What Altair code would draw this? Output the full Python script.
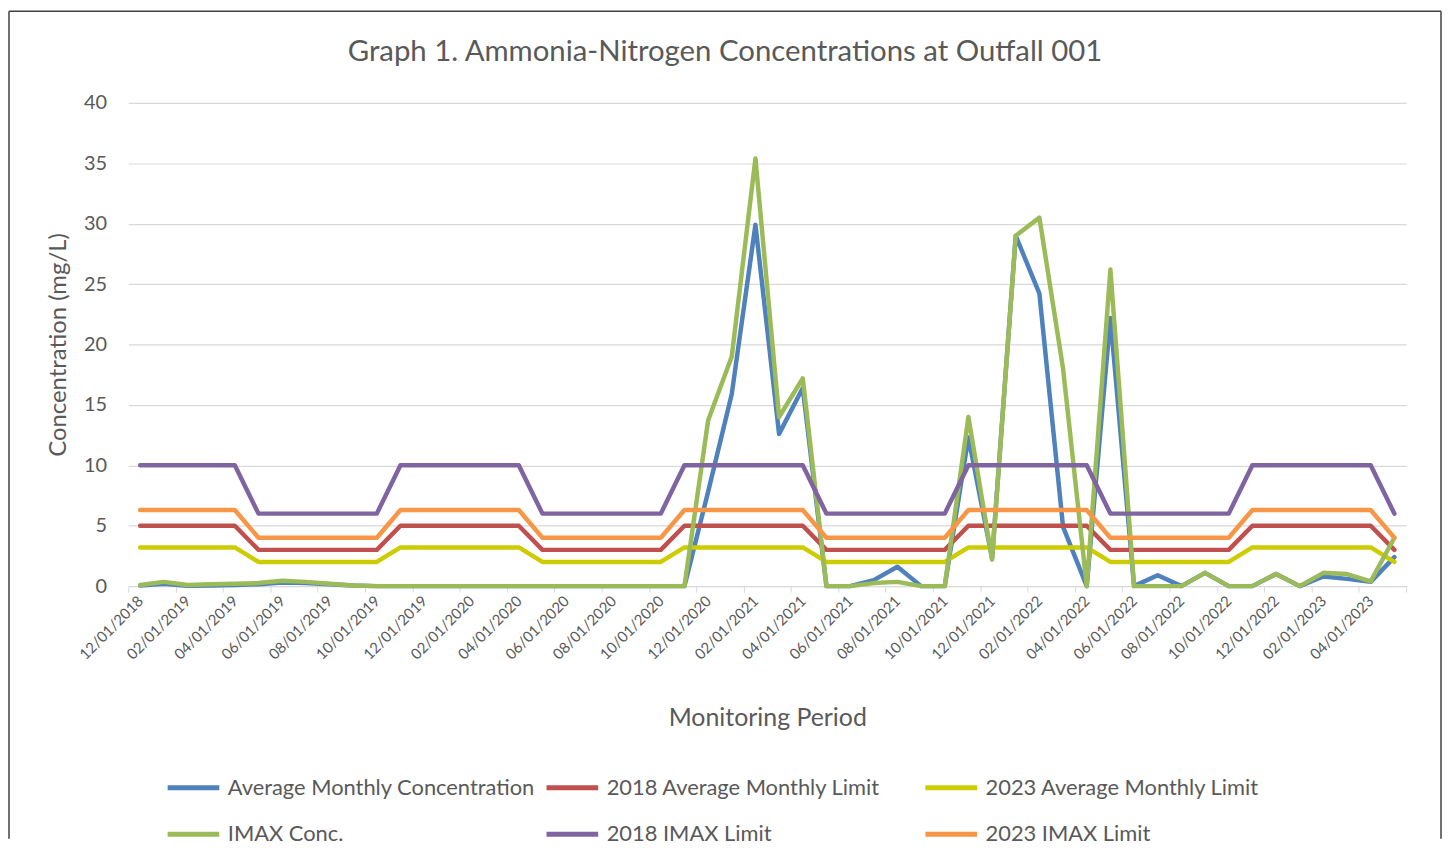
import altair as alt
import pandas as pd

months = [
    "12/01/2018", "01/01/2019", "02/01/2019", "03/01/2019", "04/01/2019", "05/01/2019",
    "06/01/2019", "07/01/2019", "08/01/2019", "09/01/2019", "10/01/2019", "11/01/2019",
    "12/01/2019", "01/01/2020", "02/01/2020", "03/01/2020", "04/01/2020", "05/01/2020",
    "06/01/2020", "07/01/2020", "08/01/2020", "09/01/2020", "10/01/2020", "11/01/2020",
    "12/01/2020", "01/01/2021", "02/01/2021", "03/01/2021", "04/01/2021", "05/01/2021",
    "06/01/2021", "07/01/2021", "08/01/2021", "09/01/2021", "10/01/2021", "11/01/2021",
    "12/01/2021", "01/01/2022", "02/01/2022", "03/01/2022", "04/01/2022", "05/01/2022",
    "06/01/2022", "07/01/2022", "08/01/2022", "09/01/2022", "10/01/2022", "11/01/2022",
    "12/01/2022", "01/01/2023", "02/01/2023", "03/01/2023", "04/01/2023", "05/01/2023",
]

avg_conc = [
    0.05, 0.2, 0.02, 0.05, 0.1, 0.15, 0.3, 0.25, 0.15, 0.05, 0, 0,
    0, 0, 0, 0, 0, 0, 0, 0, 0, 0, 0, 0,
    7.8, 15.9, 29.9, 12.6, 16.4, 0, 0, 0.5, 1.6, 0, 0, 12.3,
    2.3, 29.0, 24.2, 4.9, 0, 22.2, 0, 0.9, 0, 1.1, 0, 0,
    1.0, 0, 0.8, 0.6, 0.35, 2.4,
]
imax_conc = [
    0.1, 0.35, 0.1, 0.15, 0.2, 0.25, 0.45, 0.35, 0.2, 0.05, 0, 0,
    0, 0, 0, 0, 0, 0, 0, 0, 0, 0, 0, 0,
    13.7, 19.0, 35.4, 14.0, 17.2, 0, 0, 0.25, 0.35, 0, 0, 14.0,
    2.2, 29.0, 30.5, 18.0, 0, 26.2, 0, 0, 0, 1.1, 0, 0,
    1.0, 0, 1.1, 1.0, 0.4, 4.0,
]
aml_2018 = [
    5, 5, 5, 5, 5, 3, 3, 3, 3, 3, 3, 5,
    5, 5, 5, 5, 5, 3, 3, 3, 3, 3, 3, 5,
    5, 5, 5, 5, 5, 3, 3, 3, 3, 3, 3, 5,
    5, 5, 5, 5, 5, 3, 3, 3, 3, 3, 3, 5,
    5, 5, 5, 5, 5, 3,
]
aml_2023 = [
    3.2, 3.2, 3.2, 3.2, 3.2, 2, 2, 2, 2, 2, 2, 3.2,
    3.2, 3.2, 3.2, 3.2, 3.2, 2, 2, 2, 2, 2, 2, 3.2,
    3.2, 3.2, 3.2, 3.2, 3.2, 2, 2, 2, 2, 2, 2, 3.2,
    3.2, 3.2, 3.2, 3.2, 3.2, 2, 2, 2, 2, 2, 2, 3.2,
    3.2, 3.2, 3.2, 3.2, 3.2, 2,
]
imax_2018 = [
    10, 10, 10, 10, 10, 6, 6, 6, 6, 6, 6, 10,
    10, 10, 10, 10, 10, 6, 6, 6, 6, 6, 6, 10,
    10, 10, 10, 10, 10, 6, 6, 6, 6, 6, 6, 10,
    10, 10, 10, 10, 10, 6, 6, 6, 6, 6, 6, 10,
    10, 10, 10, 10, 10, 6,
]
imax_2023 = [
    6.3, 6.3, 6.3, 6.3, 6.3, 4, 4, 4, 4, 4, 4, 6.3,
    6.3, 6.3, 6.3, 6.3, 6.3, 4, 4, 4, 4, 4, 4, 6.3,
    6.3, 6.3, 6.3, 6.3, 6.3, 4, 4, 4, 4, 4, 4, 6.3,
    6.3, 6.3, 6.3, 6.3, 6.3, 4, 4, 4, 4, 4, 4, 6.3,
    6.3, 6.3, 6.3, 6.3, 6.3, 4,
]

series_names = [
    "Average Monthly Concentration",
    "2018 Average Monthly Limit",
    "2023 Average Monthly Limit",
    "IMAX Conc.",
    "2018 IMAX Limit",
    "2023 IMAX Limit",
]
series_values = [avg_conc, aml_2018, aml_2023, imax_conc, imax_2018, imax_2023]
series_colors = ["#4f81bd", "#c0504d", "#cccc00", "#9bbb59", "#8064a2", "#f79646"]

rows = []
for name, vals in zip(series_names, series_values):
    for i, (m, v) in enumerate(zip(months, vals)):
        rows.append({"idx": i, "month": m, "series": name, "value": v})
df = pd.DataFrame(rows)

n = len(months)
W, H = 1285, 486
FONT = "Lato"
GREY = "#595959"
BORDER = "#404040"

tick_vals = [-0.5 + 2 * k for k in range((n + 1) // 2 + 1)]
label_arr = "[" + ",".join("'" + m + "'" for m in months[::2]) + "]"
label_expr = label_arr + "[round((datum.value + 0.5) / 2)] || ''"
band = W / n

x_enc = alt.X(
    "idx:Q",
    scale=alt.Scale(domain=[-0.5, n - 0.5], nice=False, zero=False),
    axis=alt.Axis(
        values=tick_vals,
        labelExpr=label_expr,
        labelAngle=-45,
        labelAlign="right",
        labelBaseline="middle",
        labelOffset=band / 2,
        labelPadding=6,
        labelFontSize=15,
        labelFont=FONT,
        labelColor=GREY,
        labelOverlap=False,
        tickSize=6,
        tickColor="#d9d9d9",
        tickWidth=1,
        domainColor="#d9d9d9",
        domainWidth=1,
        grid=False,
        title="Monitoring Period",
        titleFont=FONT,
        titleFontSize=25,
        titleFontWeight="normal",
        titleColor=GREY,
        titlePadding=44,
    ),
)
y_enc = alt.Y(
    "value:Q",
    scale=alt.Scale(domain=[0, 40], nice=False),
    axis=alt.Axis(
        values=[0, 5, 10, 15, 20, 25, 30, 35, 40],
        grid=True,
        gridColor="#d9d9d9",
        gridWidth=1.2,
        domain=False,
        ticks=False,
        labelPadding=22,
        labelFontSize=20,
        labelFont=FONT,
        labelColor=GREY,
        title="Concentration (mg/L)",
        titleFont=FONT,
        titleFontSize=24,
        titleFontWeight="normal",
        titleColor=GREY,
        titlePadding=13,
    ),
)
color_enc = alt.Color(
    "series:N",
    scale=alt.Scale(domain=series_names, range=series_colors),
    legend=alt.Legend(
        title=None,
        orient="none",
        legendX=37,
        legendY=660,
        direction="horizontal",
        columns=3,
        gridAlign="all",
        columnPadding=0,
        rowPadding=7,
        symbolType="stroke",
        symbolSize=2700,
        symbolStrokeWidth=5,
        labelFontSize=22,
        labelFont=FONT,
        labelColor=GREY,
        labelLimit=600,
        labelOffset=6,
    ),
)

base = alt.Chart(df).encode(x=x_enc, y=y_enc, color=color_enc)
layers = []
for name in series_names:
    layers.append(
        base.transform_filter(alt.datum.series == name).mark_line(
            strokeWidth=4.5, strokeCap="round", strokeJoin="round"
        )
    )

# chart frame (left, top, right edges), as in the reference
frame_df = pd.DataFrame({"b": [0]})
frame_left = alt.Chart(frame_df).mark_rule(color=BORDER, strokeWidth=1.5).encode(
    x=alt.value(-120), y=alt.value(-92), y2=alt.value(740)
)
frame_right = alt.Chart(frame_df).mark_rule(color=BORDER, strokeWidth=1.5).encode(
    x=alt.value(W + 35), y=alt.value(-92), y2=alt.value(740)
)
frame_top = alt.Chart(frame_df).mark_rule(color=BORDER, strokeWidth=1.5).encode(
    x=alt.value(-120), x2=alt.value(W + 35), y=alt.value(-92)
)

chart = alt.layer(frame_left, frame_right, frame_top, *layers).properties(
    width=W,
    height=H,
    padding=0,
    title=alt.Title(
        "Graph 1. Ammonia-Nitrogen Concentrations at Outfall 001",
        font=FONT,
        fontSize=29.5,
        fontWeight="normal",
        color=GREY,
        anchor="middle",
        frame="bounds",
        offset=-57,
    ),
).configure_view(stroke="transparent")

chart.save("out.html", embed_options={"renderer": "svg", "actions": False})
